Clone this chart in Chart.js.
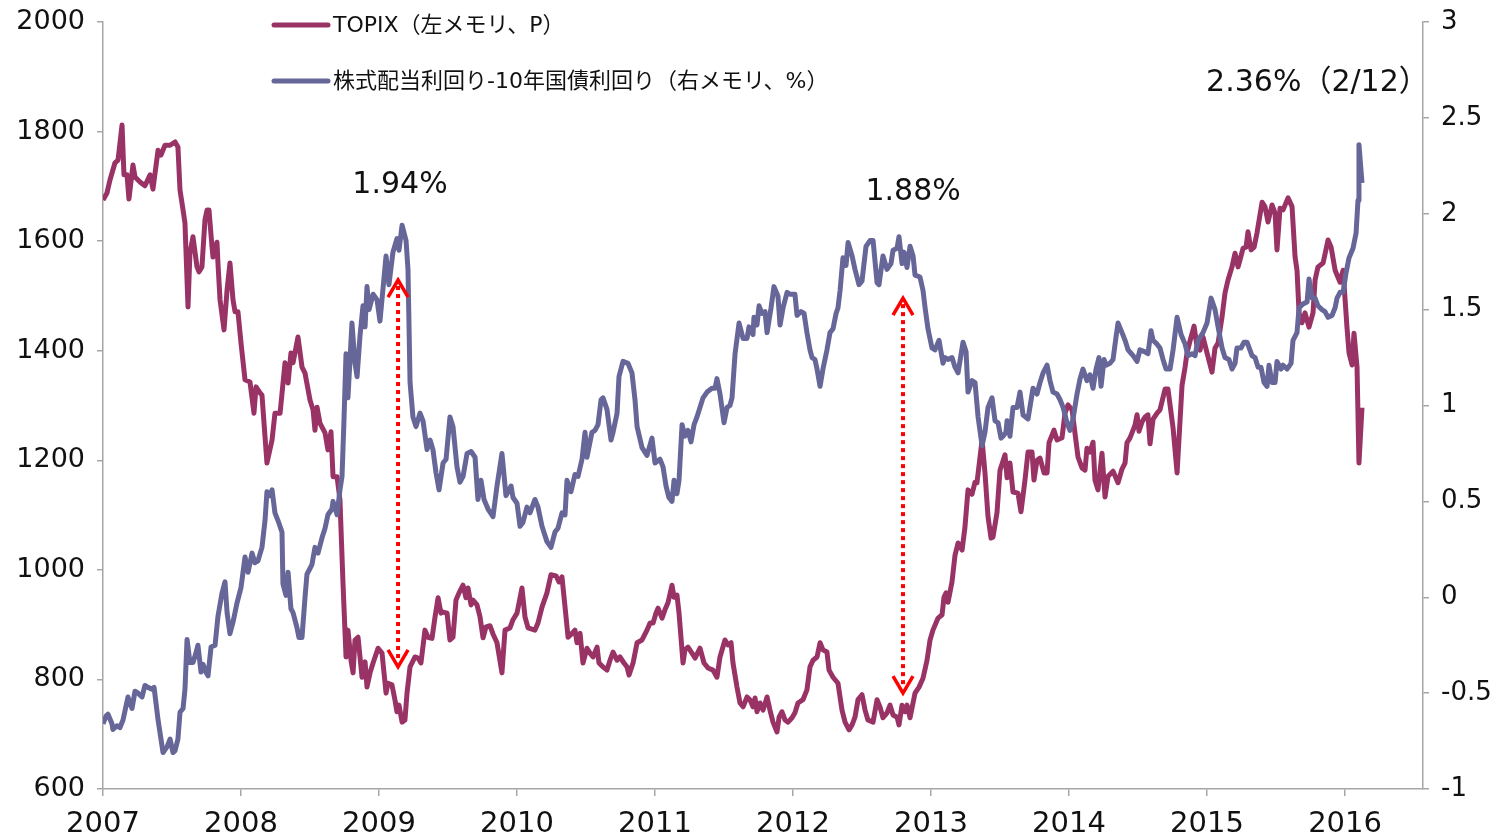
<!DOCTYPE html>
<html lang="ja">
<head>
<meta charset="utf-8">
<script src="https://cdn.jsdelivr.net/npm/chart.js@4.4.1/dist/chart.umd.min.js"></script>
<style>
  html, body { margin: 0; padding: 0; background: #fff; }
  #wrap { width: 1499px; height: 837px; }
</style>
</head>
<body>
<div id="wrap"><canvas id="chart"></canvas></div>
<script>
// weekly-ish readings, dates as decimal years
const topixDates = [
  2007.000,2007.029,2007.051,2007.087,2007.109,2007.138,2007.152,2007.174,2007.188,2007.217,
  2007.232,2007.268,2007.304,2007.341,2007.362,2007.399,2007.420,2007.449,2007.486,2007.522,
  2007.543,2007.558,2007.580,2007.594,2007.616,2007.630,2007.652,2007.681,2007.696,2007.717,
  2007.739,2007.754,2007.768,2007.790,2007.797,2007.826,2007.833,2007.848,2007.877,2007.899,
  2007.920,2007.942,2007.957,2007.978,
  2008.000,2008.029,2008.065,2008.094,2008.109,2008.138,2008.152,2008.188,2008.225,2008.246,
  2008.283,2008.319,2008.341,2008.362,2008.377,2008.413,2008.442,2008.464,2008.500,2008.522,
  2008.536,2008.551,2008.572,2008.609,2008.630,2008.652,2008.667,2008.696,2008.717,2008.739,
  2008.761,2008.775,2008.797,2008.812,2008.826,2008.848,2008.877,2008.899,2008.913,2008.935,
  2008.957,2008.993,
  2009.022,2009.051,2009.065,2009.094,2009.116,2009.130,2009.145,2009.167,2009.188,2009.203,
  2009.225,2009.261,2009.283,2009.304,2009.333,2009.355,2009.384,2009.406,2009.428,2009.449,
  2009.464,2009.493,2009.514,2009.536,2009.558,2009.580,2009.609,2009.630,2009.645,2009.667,
  2009.681,2009.710,2009.732,2009.754,2009.775,2009.804,2009.826,2009.855,2009.891,2009.913,
  2009.949,2009.971,
  2010.000,2010.036,2010.058,2010.080,2010.130,2010.152,2010.181,2010.217,2010.246,2010.283,
  2010.304,2010.326,2010.348,2010.370,2010.399,2010.420,2010.435,2010.457,2010.478,2010.507,
  2010.529,2010.551,2010.580,2010.594,2010.623,2010.652,2010.674,2010.696,2010.725,2010.746,
  2010.775,2010.797,2010.812,2010.841,2010.870,2010.906,2010.942,2010.964,2010.986,
  2011.007,2011.022,2011.051,2011.072,2011.094,2011.123,2011.138,2011.159,2011.174,2011.203,
  2011.217,2011.239,2011.268,2011.290,2011.326,2011.355,2011.384,2011.420,2011.449,2011.471,
  2011.507,2011.529,2011.551,2011.565,2011.594,2011.616,2011.638,2011.667,2011.688,2011.710,
  2011.725,2011.739,2011.761,2011.783,2011.812,2011.833,2011.855,2011.884,2011.899,2011.920,
  2011.942,2011.964,2011.993,
  2012.014,2012.036,2012.072,2012.101,2012.123,2012.145,2012.174,2012.196,2012.217,2012.246,
  2012.261,2012.290,2012.326,2012.355,2012.377,2012.406,2012.428,2012.449,2012.471,2012.500,
  2012.522,2012.543,2012.580,2012.609,2012.630,2012.652,2012.681,2012.703,2012.725,2012.754,
  2012.768,2012.790,2012.812,2012.826,2012.848,2012.884,2012.913,2012.942,2012.971,2012.993,
  2013.014,2013.051,2013.080,2013.094,2013.109,2013.123,2013.152,2013.174,2013.196,2013.225,
  2013.246,2013.268,2013.297,2013.319,2013.333,2013.370,2013.391,2013.413,2013.435,2013.449,
  2013.478,2013.500,2013.536,2013.551,2013.572,2013.594,2013.630,2013.652,2013.681,2013.703,
  2013.732,2013.746,2013.768,2013.790,2013.819,2013.841,2013.855,2013.891,2013.913,2013.949,
  2013.971,2013.993,
  2014.022,2014.043,2014.065,2014.094,2014.116,2014.130,2014.152,2014.174,2014.188,2014.210,
  2014.239,2014.261,2014.283,2014.319,2014.355,2014.384,2014.406,2014.420,2014.442,2014.464,
  2014.478,2014.493,2014.507,2014.529,2014.551,2014.572,2014.587,2014.609,2014.638,2014.659,
  2014.696,2014.717,2014.754,2014.783,2014.819,2014.841,2014.855,2014.877,2014.906,2014.928,
  2014.949,2014.971,
  2015.000,2015.036,2015.058,2015.080,2015.109,2015.130,2015.152,2015.181,2015.203,2015.225,
  2015.239,2015.261,2015.283,2015.297,2015.319,2015.341,2015.362,2015.399,2015.420,2015.442,
  2015.471,2015.493,2015.507,2015.529,2015.551,2015.587,2015.616,2015.638,2015.652,2015.667,
  2015.688,2015.710,2015.739,2015.768,2015.783,2015.804,2015.841,2015.877,2015.899,2015.928,
  2015.964,2015.986,
  2016.014,2016.029,2016.051,2016.065,2016.087,2016.101,2016.123
];
const topixValues = [
  1675,1688,1712,1743,1748,1812,1721,1721,1677,1739,
  1717,1708,1701,1721,1695,1766,1757,1775,1775,1781,
  1772,1693,1657,1633,1480,1578,1608,1553,1544,1553,
  1639,1657,1657,1589,1571,1598,1560,1493,1438,1511,
  1560,1493,1471,1471,
  1414,1347,1343,1286,1334,1323,1319,1195,1237,1286,
  1286,1378,1341,1396,1378,1425,1370,1359,1310,1292,
  1255,1297,1268,1250,1219,1252,1170,1170,1128,976,
  841,890,835,812,872,877,804,832,786,812,
  830,857,
  848,775,793,790,762,741,753,722,726,775,
  823,841,839,830,890,877,875,914,949,921,
  923,921,872,877,945,958,972,949,967,936,
  945,936,914,876,896,898,883,867,812,890,
  894,909,
  921,967,914,894,890,903,932,958,991,989,
  978,987,932,877,884,890,867,884,830,857,
  848,841,859,830,823,817,835,850,835,841,
  830,823,808,830,867,872,890,903,903,
  921,930,912,927,940,972,950,954,921,830,
  854,859,848,839,857,830,821,817,804,841,
  872,863,867,830,786,757,750,768,763,750,
  766,741,757,744,768,744,722,704,731,741,
  726,722,730,
  739,757,763,781,823,835,841,867,854,850,
  817,804,793,744,722,708,717,731,763,772,
  744,726,722,763,750,730,739,753,735,731,
  717,753,741,753,730,775,786,802,835,872,
  890,912,918,950,958,941,978,1027,1049,1036,
  1078,1146,1138,1160,1159,1237,1177,1097,1058,1060,
  1104,1182,1210,1168,1195,1142,1140,1106,1164,1215,
  1215,1164,1200,1204,1177,1177,1232,1255,1237,1241,
  1286,1301,
  1292,1250,1206,1186,1182,1222,1215,1233,1164,1146,
  1213,1133,1171,1180,1159,1184,1195,1232,1241,1255,
  1264,1283,1253,1270,1279,1283,1230,1275,1286,1292,
  1330,1330,1259,1177,1337,1370,1396,1418,1445,1407,
  1401,1425,
  1396,1361,1405,1414,1462,1505,1529,1553,1578,1553,
  1566,1587,1589,1617,1584,1589,1615,1671,1663,1635,
  1666,1651,1584,1660,1657,1679,1663,1571,1547,1469,
  1451,1469,1443,1469,1529,1553,1560,1602,1589,1547,
  1525,1547,
  1443,1396,1374,1432,1370,1195,1296
];

const spreadDates = [
  2007.000,2007.022,2007.036,2007.065,2007.072,2007.101,2007.123,2007.145,2007.181,2007.210,
  2007.232,2007.254,2007.283,2007.304,2007.326,2007.355,2007.370,2007.399,2007.435,2007.464,
  2007.486,2007.507,2007.522,2007.543,2007.558,2007.580,2007.594,2007.609,2007.630,2007.652,
  2007.674,2007.688,2007.710,2007.725,2007.746,2007.761,2007.783,2007.812,2007.833,2007.862,
  2007.884,2007.899,2007.920,2007.942,2007.971,
  2008.000,2008.029,2008.051,2008.080,2008.101,2008.123,2008.152,2008.174,2008.188,2008.210,
  2008.225,2008.246,2008.268,2008.297,2008.304,2008.326,2008.341,2008.362,2008.377,2008.406,
  2008.420,2008.442,2008.464,2008.478,2008.514,2008.536,2008.558,2008.587,2008.609,2008.630,
  2008.659,2008.667,2008.696,2008.717,2008.732,2008.746,2008.761,2008.775,2008.804,2008.826,
  2008.841,2008.862,2008.884,2008.899,2008.913,2008.928,2008.957,2008.986,
  2009.007,2009.051,2009.072,2009.101,2009.130,2009.145,2009.167,2009.196,2009.210,2009.225,
  2009.246,2009.268,2009.297,2009.319,2009.348,2009.370,2009.391,2009.413,2009.435,2009.464,
  2009.486,2009.514,2009.536,2009.565,2009.587,2009.609,2009.638,2009.667,2009.696,2009.717,
  2009.739,2009.761,2009.790,2009.826,2009.855,2009.891,2009.920,2009.957,2009.971,
  2010.000,2010.022,2010.043,2010.072,2010.094,2010.130,2010.152,2010.181,2010.217,2010.246,
  2010.275,2010.297,2010.326,2010.348,2010.362,2010.391,2010.420,2010.442,2010.471,2010.493,
  2010.507,2010.543,2010.565,2010.587,2010.609,2010.623,2010.652,2010.681,2010.696,2010.725,
  2010.739,2010.768,2010.804,2010.833,2010.855,2010.870,2010.906,2010.942,2010.978,
  2011.000,2011.036,2011.058,2011.080,2011.101,2011.123,2011.138,2011.159,2011.174,2011.196,
  2011.217,2011.239,2011.261,2011.283,2011.304,2011.348,2011.377,2011.413,2011.435,2011.449,
  2011.471,2011.500,2011.522,2011.543,2011.558,2011.580,2011.609,2011.638,2011.667,2011.681,
  2011.710,2011.717,2011.739,2011.754,2011.775,2011.797,2011.812,2011.841,2011.862,2011.891,
  2011.906,2011.928,2011.957,2011.978,
  2012.014,2012.029,2012.058,2012.080,2012.101,2012.123,2012.138,2012.159,2012.174,2012.196,
  2012.217,2012.246,2012.268,2012.290,2012.312,2012.326,2012.341,2012.362,2012.384,2012.399,
  2012.428,2012.449,2012.478,2012.500,2012.529,2012.558,2012.580,2012.609,2012.623,2012.652,
  2012.681,2012.710,2012.725,2012.754,2012.768,2012.790,2012.804,2012.826,2012.848,2012.870,
  2012.884,2012.920,2012.942,2012.957,2012.978,
  2013.007,2013.029,2013.058,2013.087,2013.101,2013.123,2013.152,2013.174,2013.196,2013.232,
  2013.254,2013.268,2013.297,2013.319,2013.341,2013.370,2013.391,2013.413,2013.442,2013.464,
  2013.486,2013.507,2013.522,2013.543,2013.551,2013.572,2013.594,2013.623,2013.645,2013.667,
  2013.703,2013.739,2013.768,2013.790,2013.812,2013.841,2013.862,2013.884,2013.913,2013.935,
  2013.957,2013.986,
  2014.007,2014.029,2014.058,2014.080,2014.101,2014.130,2014.152,2014.174,2014.196,2014.217,
  2014.232,2014.254,2014.268,2014.297,2014.319,2014.341,2014.355,2014.384,2014.406,2014.428,
  2014.464,2014.493,2014.514,2014.551,2014.572,2014.594,2014.609,2014.638,2014.659,2014.681,
  2014.703,2014.732,2014.754,2014.783,2014.812,2014.841,2014.862,2014.891,2014.913,2014.935,
  2014.971,
  2015.000,2015.029,2015.058,2015.080,2015.109,2015.130,2015.159,2015.181,2015.203,2015.217,
  2015.246,2015.268,2015.290,2015.326,2015.348,2015.370,2015.391,2015.413,2015.435,2015.449,
  2015.471,2015.493,2015.507,2015.536,2015.551,2015.580,2015.609,2015.623,2015.652,2015.667,
  2015.696,2015.725,2015.739,2015.761,2015.783,2015.804,2015.833,2015.855,2015.877,2015.906,
  2015.928,2015.942,2015.964,2015.986,
  2016.007,2016.029,2016.058,2016.080,2016.094,2016.101,2016.123
];
const spreadValues = [
  -0.66,-0.62,-0.61,-0.66,-0.69,-0.67,-0.68,-0.64,-0.52,-0.58,
  -0.49,-0.50,-0.52,-0.46,-0.47,-0.48,-0.47,-0.64,-0.81,-0.78,
  -0.74,-0.81,-0.80,-0.74,-0.60,-0.58,-0.48,-0.22,-0.34,-0.34,
  -0.29,-0.25,-0.39,-0.35,-0.39,-0.41,-0.26,-0.25,-0.10,0.02,
  0.08,-0.08,-0.19,-0.13,-0.03,
  0.05,0.21,0.13,0.23,0.18,0.19,0.26,0.40,0.55,0.53,
  0.56,0.44,0.40,0.34,0.07,0.01,0.13,-0.06,-0.08,-0.16,
  -0.21,-0.21,0.00,0.12,0.17,0.26,0.23,0.31,0.36,0.43,
  0.46,0.50,0.43,0.56,0.63,0.92,1.27,1.04,1.43,1.22,
  1.15,1.36,1.52,1.41,1.62,1.50,1.58,1.55,
  1.44,1.78,1.63,1.80,1.87,1.81,1.94,1.86,1.71,1.12,
  0.94,0.89,0.96,0.92,0.77,0.82,0.77,0.65,0.56,0.70,
  0.72,0.94,0.89,0.68,0.60,0.63,0.75,0.76,0.73,0.51,
  0.61,0.51,0.46,0.42,0.58,0.75,0.53,0.58,0.52,
  0.49,0.37,0.39,0.47,0.44,0.51,0.47,0.37,0.29,0.26,
  0.34,0.36,0.44,0.43,0.61,0.55,0.64,0.63,0.72,0.86,
  0.73,0.86,0.87,0.90,1.03,1.04,0.98,0.82,0.86,0.96,
  1.15,1.23,1.22,1.17,1.03,0.89,0.78,0.74,0.83,
  0.70,0.72,0.68,0.58,0.52,0.50,0.61,0.54,0.61,0.90,
  0.84,0.87,0.81,0.90,0.94,1.04,1.07,1.09,1.09,1.14,
  1.06,0.91,0.99,1.00,1.04,1.27,1.43,1.35,1.35,1.41,
  1.37,1.46,1.42,1.52,1.48,1.49,1.38,1.51,1.62,1.57,
  1.42,1.51,1.59,1.58,
  1.58,1.47,1.49,1.48,1.38,1.29,1.25,1.24,1.19,1.10,
  1.19,1.29,1.38,1.40,1.48,1.51,1.60,1.77,1.73,1.85,
  1.78,1.71,1.63,1.65,1.83,1.86,1.86,1.64,1.63,1.78,
  1.71,1.74,1.81,1.82,1.88,1.74,1.80,1.72,1.83,1.78,
  1.68,1.67,1.60,1.51,1.40,
  1.30,1.29,1.34,1.22,1.25,1.24,1.25,1.20,1.17,1.33,
  1.28,1.07,1.13,1.12,0.94,0.79,0.86,0.99,1.04,0.92,
  0.91,0.83,0.84,0.86,0.92,0.84,0.99,0.99,1.07,0.95,
  0.93,1.09,1.06,1.12,1.17,1.21,1.13,1.07,1.06,1.03,
  0.99,0.91,
  0.87,0.93,1.06,1.14,1.19,1.13,1.16,1.09,1.19,1.25,
  1.10,1.24,1.21,1.22,1.24,1.36,1.43,1.38,1.34,1.29,
  1.26,1.23,1.29,1.28,1.27,1.39,1.34,1.32,1.30,1.24,
  1.19,1.19,1.29,1.46,1.37,1.32,1.26,1.27,1.26,1.34,
  1.38,
  1.43,1.56,1.50,1.41,1.30,1.25,1.24,1.19,1.22,1.30,
  1.30,1.33,1.33,1.26,1.25,1.20,1.20,1.12,1.10,1.21,
  1.12,1.12,1.23,1.19,1.21,1.19,1.22,1.34,1.38,1.51,
  1.53,1.54,1.66,1.56,1.56,1.52,1.50,1.49,1.46,1.47,
  1.51,1.56,1.59,1.59,
  1.69,1.77,1.82,1.90,2.07,2.36,2.16
];

const yearTicks = [2007, 2008, 2009, 2010, 2011, 2012, 2013, 2014, 2015, 2016];
const leftTicks = [600, 800, 1000, 1200, 1400, 1600, 1800, 2000];
const rightTicks = [-1, -0.5, 0, 0.5, 1, 1.5, 2, 2.5, 3];

// call-outs, anchored in data units (date, TOPIX scale)
const peakLabels = [
  {text: '1.94%', date: 2009.152, value: 1702},
  {text: '1.88%', date: 2012.870, value: 1690},
  {text: '2.36%（2/12）', date: 2015.800, value: 1889}
];
const arrows = [
  {date: 2009.138, low: 823, high: 1529},
  {date: 2012.797, low: 775, high: 1496}
];

const FONT = '"DejaVu Sans", "Noto Sans CJK JP", sans-serif';
const AXIS_GREY = '#a6a6a6';
const TEXT = '#111111';

// keep label half-heights from pushing the plot area down
const noVerticalPadding = (axis) => {
    axis.paddingTop = 0
    axis.paddingBottom = 0
}

const overlay = {
    id: 'overlay',
    afterDatasetsDraw(chart) {
        const {ctx, scales} = chart
        const x = scales.x, y = scales.y
        ctx.save()

        // red dotted arrows
        arrows.forEach(a => {
            const px = x.getPixelForValue(a.date)
            const top = y.getPixelForValue(a.high)
            const bot = y.getPixelForValue(a.low)
            ctx.strokeStyle = '#ff0000'
            ctx.lineWidth = 4
            ctx.setLineDash([4, 4])
            ctx.beginPath()
            ctx.moveTo(px, top + 6)
            ctx.lineTo(px, bot - 6)
            ctx.stroke()
            ctx.setLineDash([])
            ctx.lineWidth = 3.5
            ctx.lineJoin = 'miter'
            ctx.beginPath()
            ctx.moveTo(px - 10, top + 17)
            ctx.lineTo(px, top)
            ctx.lineTo(px + 10, top + 17)
            ctx.moveTo(px - 10, bot - 17)
            ctx.lineTo(px, bot)
            ctx.lineTo(px + 10, bot - 17)
            ctx.stroke()
        })

        // peak labels
        ctx.fillStyle = TEXT
        ctx.font = '30px ' + FONT
        ctx.textAlign = 'center'
        ctx.textBaseline = 'middle'
        peakLabels.forEach(l => {
            ctx.fillText(l.text, x.getPixelForValue(l.date), y.getPixelForValue(l.value))
        })

        // legend, two rows at the top
        ctx.font = '22px ' + FONT
        ctx.textAlign = 'left'
        chart.data.datasets.forEach((ds, i) => {
            const ly = 25 + i * 56
            ctx.strokeStyle = ds.borderColor
            ctx.lineWidth = 5
            ctx.lineCap = 'round'
            ctx.beginPath()
            ctx.moveTo(274, ly)
            ctx.lineTo(328, ly)
            ctx.stroke()
            ctx.fillStyle = TEXT
            ctx.fillText(ds.label, 333, ly + 1)
        })
        ctx.restore()
    }
}

const chart = new Chart(document.getElementById('chart'), {
    type: 'line',
    data: {
        datasets: [{
            label: 'TOPIX（左メモリ、P）',
            data: topixDates.map((d, i) => ({x: d, y: topixValues[i]})),
            borderColor: '#993366',
            borderWidth: 5,
            pointRadius: 0,
            tension: 0,
            borderJoinStyle: 'round',
            yAxisID: 'y',
            order: 2
        }, {
            label: '株式配当利回り-10年国債利回り（右メモリ、%）',
            data: spreadDates.map((d, i) => ({x: d, y: spreadValues[i]})),
            borderColor: '#666699',
            borderWidth: 5,
            pointRadius: 0,
            tension: 0,
            borderJoinStyle: 'round',
            yAxisID: 'y1',
            order: 1
        }]
    },
    options: {
        responsive: true,
        maintainAspectRatio: false,
        animation: false,
        devicePixelRatio: 1,
        layout: {padding: {top: 22, left: 0, right: 0, bottom: 0}},
        plugins: {
            legend: {display: false},
            tooltip: {enabled: false}
        },
        scales: {
            x: {
                type: 'linear',
                min: 2007,
                max: 2016.565,
                afterBuildTicks: (axis) => { axis.ticks = yearTicks.map(v => ({value: v})) },
                afterFit: (axis) => { axis.height = 48 },
                grid: {drawOnChartArea: false, tickLength: 7, color: AXIS_GREY, lineWidth: 1.5},
                border: {color: AXIS_GREY, width: 1.5},
                ticks: {
                    color: TEXT,
                    font: {family: FONT, size: 29},
                    padding: 11,
                    maxRotation: 0,
                    callback: (value) => String(value)
                }
            },
            y: {
                position: 'left',
                min: 600,
                max: 2000,
                afterBuildTicks: (axis) => { axis.ticks = leftTicks.map(v => ({value: v})) },
                afterFit: (axis) => { axis.width = 103; noVerticalPadding(axis) },
                grid: {drawOnChartArea: false, tickLength: 6, color: AXIS_GREY, lineWidth: 1.5},
                border: {color: AXIS_GREY, width: 1.5},
                ticks: {
                    color: TEXT,
                    font: {family: FONT, size: 27},
                    padding: 12,
                    callback: (value) => String(value)
                }
            },
            y1: {
                position: 'right',
                min: -1,
                max: 3,
                afterBuildTicks: (axis) => { axis.ticks = rightTicks.map(v => ({value: v})) },
                afterFit: (axis) => { axis.width = 76; noVerticalPadding(axis) },
                grid: {drawOnChartArea: false, tickLength: 6, color: AXIS_GREY, lineWidth: 1.5},
                border: {color: AXIS_GREY, width: 1.5},
                ticks: {
                    color: TEXT,
                    font: {family: FONT, size: 26},
                    padding: 12,
                    callback: (value) => String(value)
                }
            }
        }
    },
    plugins: [overlay]
})
</script>
</body>
</html>
